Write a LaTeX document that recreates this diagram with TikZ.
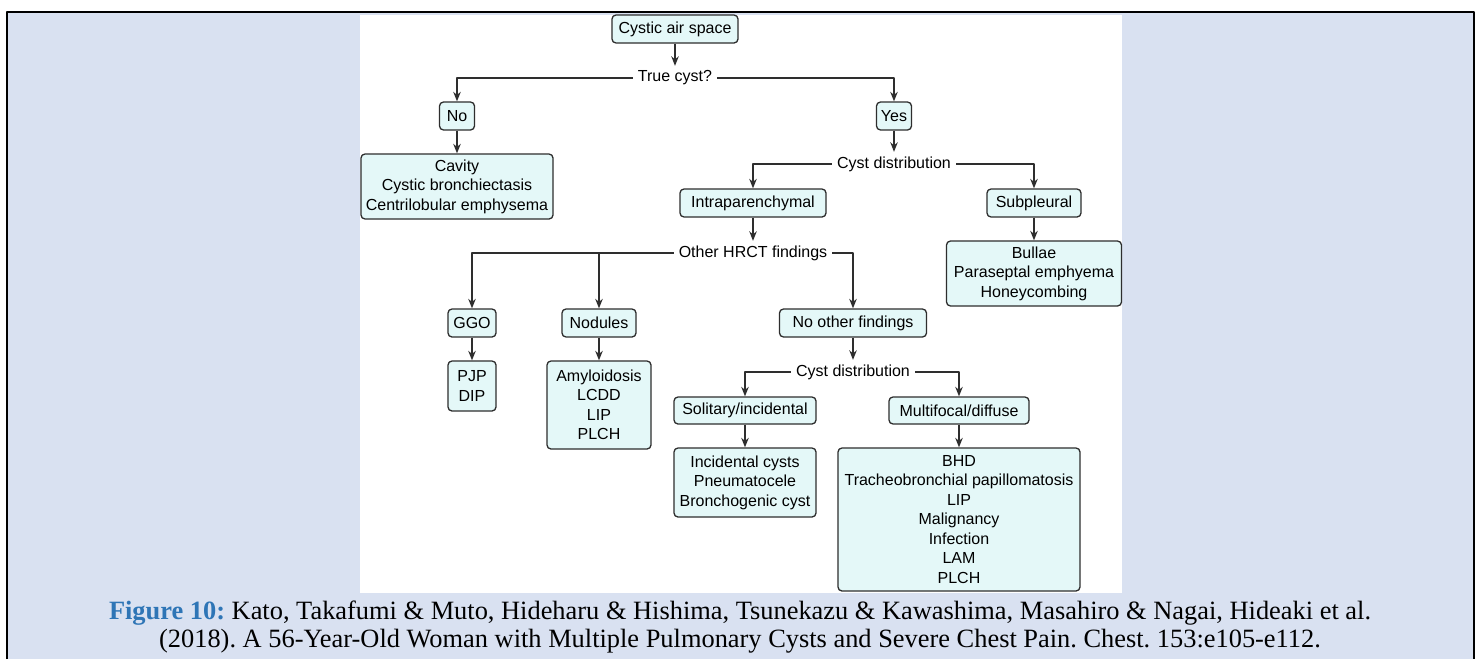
\documentclass[tikz,border=0pt]{standalone}
\usepackage{fontspec}
\setmainfont{Liberation Sans}
\newfontfamily\capfont{Liberation Serif}
\usetikzlibrary{arrows.meta}
\definecolor{bgblue}{HTML}{D9E1F1}
\definecolor{boxfill}{HTML}{E4F8F8}
\definecolor{linegray}{HTML}{2E2E2E}
\definecolor{capblue}{HTML}{2E75B6}
\frenchspacing
\tikzset{
  box/.style={draw=linegray, fill=boxfill, rounded corners=4pt, line width=1.3pt,
    align=center, inner sep=0pt, minimum height=28pt},
  ask/.style={inner xsep=5pt, inner ysep=0pt, minimum height=24pt},
}
\begin{document}
\begin{tikzpicture}[x=1pt, y=-1pt, line join=round, >={Stealth[length=9.5pt,width=7.5pt]},
    font=\fontsize{16}{19.5}\selectfont]
			\useasboundingbox (0,0) rectangle (1480,659);
			% page background and frame
			\fill[bgblue] (7,12) rectangle (1474,659);
			\fill[white] (360,15) rectangle (1122,593);
			\draw[line width=2.5pt] (7,659) |- (1474,12) -- (1474,659);
			% first level
			\node[box, minimum width=126] (air) at (675,29) {Cystic air space};
			\node[ask] (true) at (675,78) {True cyst?};
			\node[box, minimum width=35] (no) at (457,116) {No};
			\node[box, minimum width=35] (yes) at (894,116) {Yes};
			\node[box, minimum width=192, minimum height=65] (cav) at (457,186.5) {Cavity\\Cystic bronchiectasis\\Centrilobular emphysema};
			% true cysts
			\node[ask] (dist) at (894,164) {Cyst distribution};
			\node[box, minimum width=146] (intra) at (753,203) {Intraparenchymal};
			\node[box, minimum width=94] (sub) at (1034,203) {Subpleural};
			\node[box, minimum width=175, minimum height=65] (bul) at (1034,273.5) {Bullae\\Paraseptal emphyema\\Honeycombing};
			% other findings
			\node[ask] (hrct) at (753,253) {Other HRCT findings};
			\node[box, minimum width=48] (ggo) at (472,323) {GGO};
			\node[box, minimum width=74] (nod) at (599,323) {Nodules};
			\node[box, minimum width=147] (none) at (853,323) {No other findings};
			\node[box, minimum width=48, minimum height=50] (pjp) at (472,386) {PJP\\DIP};
			\node[box, minimum width=104, minimum height=88] (amy) at (599,405) {Amyloidosis\\LCDD\\LIP\\PLCH};
			% no other findings
			\node[ask] (dist2) at (853,372) {Cyst distribution};
			\node[box, minimum width=142, minimum height=27] (sol) at (745,410.5) {Solitary/incidental};
			\node[box, minimum width=140, minimum height=27] (mul) at (959,410.5) {Multifocal/diffuse};
			\node[box, minimum width=142, minimum height=69] (inc) at (745,482.5) {Incidental cysts\\Pneumatocele\\Bronchogenic cyst};
			\node[box, minimum width=242, minimum height=143] (bhd) at (959,519.5) {BHD\\Tracheobronchial papillomatosis\\LIP\\Malignancy\\Infection\\LAM\\PLCH};
			% connectors
			\begin{scope}[draw=linegray, line width=1.3pt]
				\draw[->] (air) -- (true);
				\draw[->] (true.west) -| (no);
				\draw[->] (true.east) -| (yes);
				\draw[->] (no) -- (cav);
				\draw[->] (yes) -- (dist);
				\draw[->] (dist.west) -| (intra);
				\draw[->] (dist.east) -| (sub);
				\draw[->] (sub) -- (bul);
				\draw[->] (intra) -- (hrct);
				\draw[->] (hrct.west) -| (ggo);
				\draw[->] (nod.north |- hrct.west) -- (nod);
				\draw[->] (hrct.east) -| (none);
				\draw[->] (ggo) -- (pjp);
				\draw[->] (nod) -- (amy);
				\draw[->] (none) -- (dist2);
				\draw[->] (dist2.west) -| (sol);
				\draw[->] (dist2.east) -| (mul);
				\draw[->] (sol) -- (inc);
				\draw[->] (mul) -- (bhd);
			\end{scope}
			% caption
			\node[font=\capfont\fontsize{26.4}{28}\selectfont] (cap1) at (740,613) {\textcolor{capblue}{\textbf{Figure 10:}} Kato, Takafumi \& Muto, Hideharu \& Hishima, Tsunekazu \& Kawashima, Masahiro \& Nagai, Hideaki et al.};
			\node[font=\capfont\fontsize{26.4}{28}\selectfont] (cap2) at (740,641) {(2018). A 56-Year-Old Woman with Multiple Pulmonary Cysts and Severe Chest Pain. Chest. 153:e105-e112.};
	\end{tikzpicture}
\end{document}
